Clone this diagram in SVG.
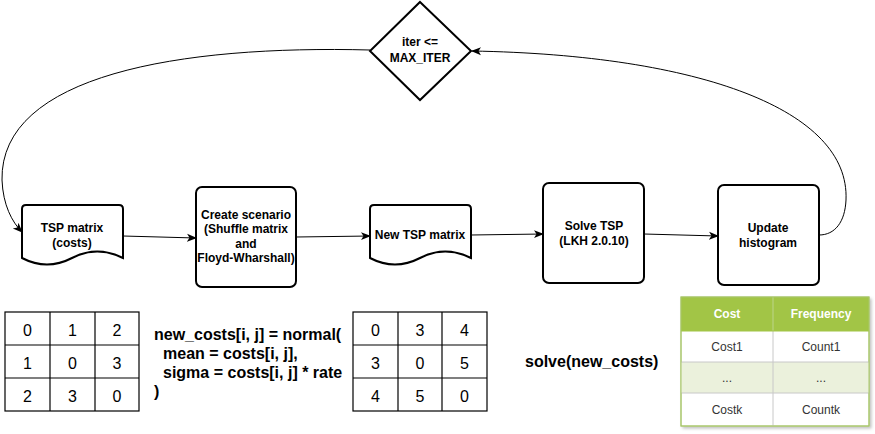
<svg xmlns="http://www.w3.org/2000/svg" width="875" height="434" viewBox="0 0 875 434">
<style>
  .node { fill: #fff; stroke: #000; stroke-width: 2; }
  .lbl { font-family: "Liberation Sans", Arial, sans-serif; font-size: 12px; font-weight: bold; text-anchor: middle; fill: #000; }
  .edge { fill: none; stroke: #000; stroke-width: 1; }
  .grid { fill: #fff; stroke: #000; stroke-width: 1.2; }
  .gl { stroke: #000; stroke-width: 1.2; }
  .num { font-family: "Liberation Sans", Arial, sans-serif; font-size: 16px; text-anchor: middle; fill: #000; }
  .code { font-family: "Liberation Sans", Arial, sans-serif; font-size: 16px; font-weight: bold; fill: #000; }
  .th { font-family: "Liberation Sans", Arial, sans-serif; font-size: 12px; font-weight: bold; text-anchor: middle; fill: #fff; }
  .td { font-family: "Liberation Sans", Arial, sans-serif; font-size: 12px; text-anchor: middle; fill: #333; }
</style>
<defs>
  <marker id="arrow" viewBox="0 0 10 10" refX="9" refY="5" markerWidth="10" markerHeight="10" markerUnits="userSpaceOnUse" orient="auto">
    <path d="M0,1 L10,5 L0,9 L2.5,5 Z" fill="#000"/>
  </marker>
  <filter id="shadow" x="-10%" y="-10%" width="130%" height="130%">
    <feDropShadow dx="2" dy="2" stdDeviation="1.5" flood-color="#000" flood-opacity="0.25"/>
  </filter>
</defs>
<rect width="875" height="434" fill="#fff"/>

<g id="connectors">
  <path class="edge" d="M123,236 L196,238" marker-end="url(#arrow)"/>
  <path class="edge" d="M296,237 L370,236" marker-end="url(#arrow)"/>
  <path class="edge" d="M471,235 L543,234" marker-end="url(#arrow)"/>
  <path class="edge" d="M644,234 L718,236" marker-end="url(#arrow)"/>
  <path class="edge" d="M819,235 C835,235 845,222 846,200 C850,110 700,55 472,51" marker-end="url(#arrow)"/>
  <path class="edge" d="M370,50 C180,45 0,75 2,180 C3,205 12,222 22,232" marker-end="url(#arrow)"/>
</g>

<g id="node-decision">
  <path class="node" d="M420,2 L471,51 L420,100 L370,51 Z"/>
  <text class="lbl" x="420" y="46">iter &lt;=</text>
  <text class="lbl" x="420" y="62">MAX_ITER</text>
</g>

<g id="node-tsp-matrix">
  <path class="node" d="M22,209 Q22,205 26,205 H119 Q123,205 123,209 V258 Q97,245 72,258 Q47,271 22,258 Z"/>
  <text class="lbl" x="72" y="232">TSP matrix</text>
  <text class="lbl" x="72" y="247">(costs)</text>
</g>

<g id="node-create-scenario">
  <rect class="node" x="196" y="187" width="100" height="100" rx="6"/>
  <text class="lbl" x="246" y="219">Create scenario</text>
  <text class="lbl" x="246" y="233">(Shuffle matrix</text>
  <text class="lbl" x="246" y="248">and</text>
  <text class="lbl" x="246" y="262">Floyd-Wharshall)</text>
</g>

<g id="node-new-tsp-matrix">
  <path class="node" d="M370,209 Q370,205 374,205 H467 Q471,205 471,209 V258 Q445,245 420,258 Q395,271 370,258 Z"/>
  <text class="lbl" x="420" y="239">New TSP matrix</text>
</g>

<g id="node-solve">
  <rect class="node" x="543" y="183" width="101" height="100" rx="6"/>
  <text class="lbl" x="594" y="230">Solve TSP</text>
  <text class="lbl" x="594" y="245">(LKH 2.0.10)</text>
</g>

<g id="node-update">
  <rect class="node" x="718" y="185" width="101" height="100" rx="6"/>
  <text class="lbl" x="768" y="232">Update</text>
  <text class="lbl" x="768" y="247">histogram</text>
</g>

<g id="matrix-costs">
  <rect class="grid" x="5" y="312" width="134" height="99"/>
  <line class="gl" x1="50" y1="312" x2="50" y2="411"/>
  <line class="gl" x1="95" y1="312" x2="95" y2="411"/>
  <line class="gl" x1="5" y1="345" x2="139" y2="345"/>
  <line class="gl" x1="5" y1="378" x2="139" y2="378"/>
  <text class="num" x="27.5" y="336">0</text><text class="num" x="72.5" y="336">1</text><text class="num" x="117" y="336">2</text>
  <text class="num" x="27.5" y="369">1</text><text class="num" x="72.5" y="369">0</text><text class="num" x="117" y="369">3</text>
  <text class="num" x="27.5" y="402">2</text><text class="num" x="72.5" y="402">3</text><text class="num" x="117" y="402">0</text>
</g>

<g id="formula">
  <text class="code" x="154" y="340">new_costs[i, j] = normal(</text>
  <text class="code" x="163" y="359">mean = costs[i, j],</text>
  <text class="code" x="163" y="378">sigma = costs[i, j] * rate</text>
  <text class="code" x="154" y="397">)</text>
</g>

<g id="matrix-new-costs">
  <rect class="grid" x="353" y="312" width="134" height="99"/>
  <line class="gl" x1="398" y1="312" x2="398" y2="411"/>
  <line class="gl" x1="442" y1="312" x2="442" y2="411"/>
  <line class="gl" x1="353" y1="345" x2="487" y2="345"/>
  <line class="gl" x1="353" y1="378" x2="487" y2="378"/>
  <text class="num" x="375.5" y="336">0</text><text class="num" x="420" y="336">3</text><text class="num" x="464.5" y="336">4</text>
  <text class="num" x="375.5" y="369">3</text><text class="num" x="420" y="369">0</text><text class="num" x="464.5" y="369">5</text>
  <text class="num" x="375.5" y="402">4</text><text class="num" x="420" y="402">5</text><text class="num" x="464.5" y="402">0</text>
</g>

<g id="solve-call">
  <text class="code" x="525" y="367">solve(new_costs)</text>
</g>

<g id="histogram-table">
  <g filter="url(#shadow)">
    <rect x="681" y="297" width="188" height="129" fill="#fff" stroke="#a8c66a" stroke-width="1"/>
  </g>
  <rect x="681" y="297" width="188" height="34" fill="#a2c546"/>
  <rect x="681" y="362" width="188" height="31" fill="#ebf1dc"/>
  <line x1="773" y1="297" x2="773" y2="331" stroke="#bcd58a" stroke-width="1"/>
  <line x1="773" y1="331" x2="773" y2="426" stroke="#c8c8c8" stroke-width="1"/>
  <line x1="681" y1="331" x2="869" y2="331" stroke="#a2c546" stroke-width="1"/>
  <line x1="681" y1="362" x2="869" y2="362" stroke="#c8c8c8" stroke-width="1"/>
  <line x1="681" y1="393" x2="869" y2="393" stroke="#c8c8c8" stroke-width="1"/>
  <rect x="681" y="297" width="188" height="129" fill="none" stroke="#a8c66a" stroke-width="1"/>
  <text class="th" x="727" y="318">Cost</text>
  <text class="th" x="821" y="318">Frequency</text>
  <text class="td" x="727" y="351">Cost1</text>
  <text class="td" x="821" y="351">Count1</text>
  <text class="td" x="727" y="382">...</text>
  <text class="td" x="821" y="382">...</text>
  <text class="td" x="727" y="414">Costk</text>
  <text class="td" x="821" y="414">Countk</text>
</g>
</svg>
